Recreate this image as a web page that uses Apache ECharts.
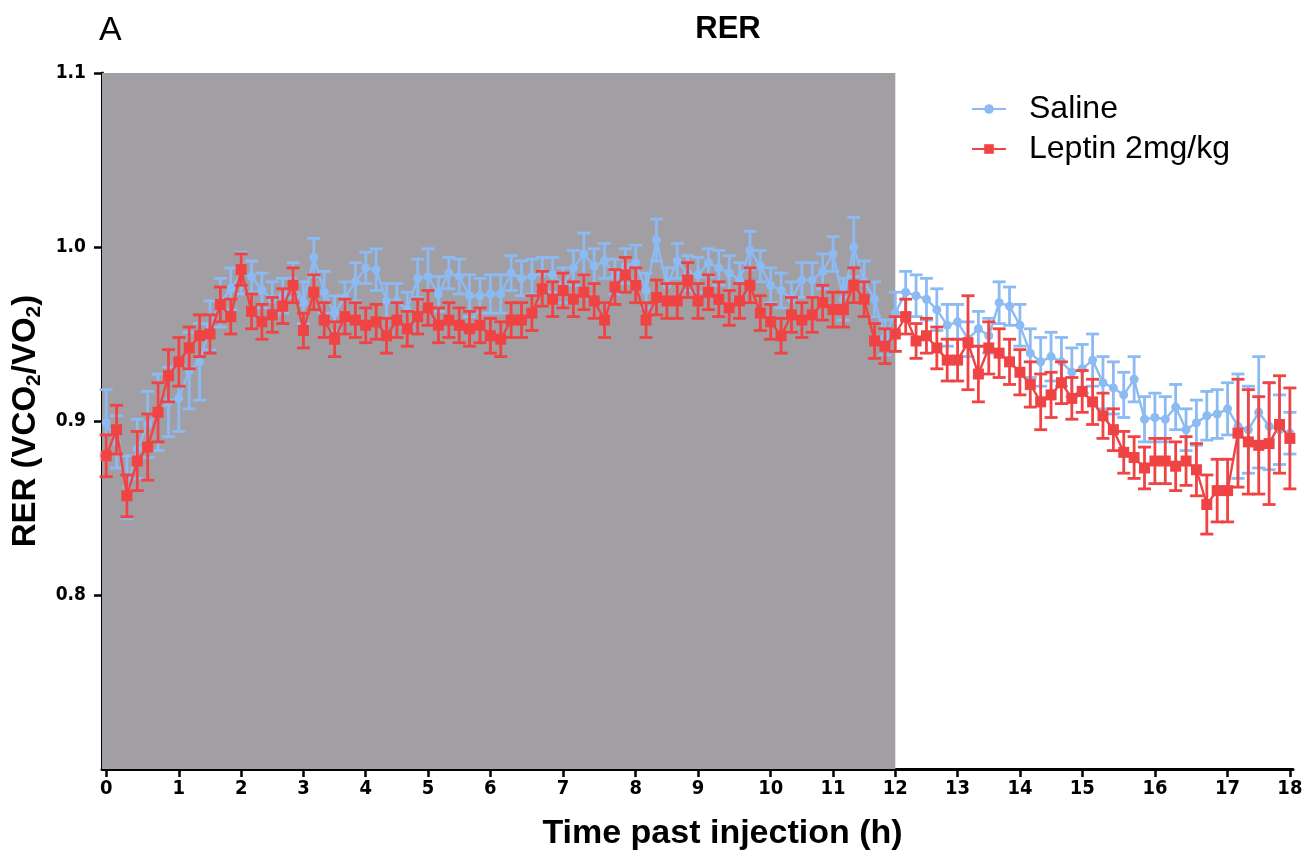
<!DOCTYPE html>
<html><head><meta charset="utf-8">
<script src="https://cdn.jsdelivr.net/npm/echarts@6/dist/echarts.min.js"></script>
<style>html,body{margin:0;padding:0;background:#fff}#c{width:1312px;height:857px}</style>
</head><body><div id="c"></div>
<script>
// tick positions (point index) and labels on the time axis (h)
const tickIndex = [0,7,13,19,25,31,37,44,51,57,64,70,76,82,88,94,101,108,114];
const tickLabels = ['0','1','2','3','4','5','6','7','8','9','10','11','12','13','14','15','16','17','18'];
const yTicks = [0.8,0.9,1.0,1.1];
const darkEndIndex = 76; // 12 h

const saline = [
0.899,0.888,0.862,0.884,0.898,0.905,0.911,0.913,0.929,0.934,
0.955,0.968,0.976,0.985,0.983,0.975,0.970,0.972,0.981,0.968,
0.994,0.974,0.962,0.971,0.980,0.988,0.987,0.969,0.969,0.964,
0.982,0.983,0.973,0.985,0.983,0.972,0.972,0.973,0.973,0.985,
0.982,0.983,0.985,0.984,0.978,0.988,0.996,0.989,0.992,0.983,
0.989,0.991,0.975,1.004,0.978,0.992,0.985,0.984,0.991,0.988,
0.985,0.981,0.998,0.989,0.978,0.975,0.970,0.981,0.981,0.986,
0.996,0.970,1.000,0.980,0.970,0.948,0.962,0.974,0.972,0.970,
0.964,0.955,0.957,0.947,0.953,0.949,0.968,0.966,0.955,0.939,
0.934,0.937,0.934,0.928,0.930,0.935,0.922,0.919,0.915,0.924,
0.901,0.902,0.901,0.908,0.895,0.899,0.903,0.904,0.907,0.897,
0.895,0.905,0.897,0.895,0.893];
const salineSem = [
0.019,0.015,0.018,0.017,0.019,0.022,0.020,0.019,0.022,0.022,
0.014,0.014,0.012,0.012,0.009,0.010,0.010,0.010,0.010,0.012,
0.011,0.012,0.010,0.009,0.011,0.009,0.012,0.010,0.010,0.010,
0.011,0.016,0.010,0.009,0.010,0.012,0.010,0.011,0.011,0.010,
0.010,0.010,0.009,0.010,0.010,0.010,0.012,0.010,0.010,0.010,
0.010,0.010,0.010,0.012,0.010,0.010,0.010,0.010,0.008,0.010,
0.010,0.010,0.011,0.009,0.010,0.010,0.010,0.010,0.010,0.010,
0.010,0.012,0.017,0.012,0.010,0.010,0.012,0.012,0.012,0.012,
0.012,0.012,0.010,0.010,0.010,0.010,0.012,0.011,0.012,0.014,
0.014,0.014,0.014,0.014,0.014,0.015,0.015,0.015,0.013,0.013,
0.013,0.014,0.013,0.013,0.012,0.013,0.014,0.014,0.015,0.030,
0.025,0.032,0.025,0.020,0.012];
const leptin = [
0.880,0.895,0.857,0.877,0.885,0.905,0.926,0.934,0.942,0.949,
0.950,0.967,0.960,0.987,0.963,0.957,0.961,0.966,0.978,0.952,
0.974,0.958,0.947,0.960,0.958,0.955,0.957,0.949,0.958,0.953,
0.960,0.965,0.955,0.958,0.955,0.953,0.955,0.949,0.947,0.958,
0.958,0.962,0.976,0.970,0.975,0.970,0.974,0.969,0.958,0.977,
0.984,0.978,0.958,0.971,0.969,0.969,0.981,0.969,0.974,0.970,
0.965,0.969,0.978,0.962,0.957,0.949,0.961,0.958,0.961,0.968,
0.964,0.964,0.978,0.970,0.946,0.943,0.950,0.960,0.946,0.949,
0.942,0.935,0.935,0.945,0.927,0.942,0.939,0.934,0.928,0.921,
0.911,0.915,0.922,0.913,0.917,0.911,0.903,0.895,0.882,0.879,
0.873,0.877,0.877,0.874,0.877,0.872,0.852,0.860,0.860,0.893,
0.888,0.886,0.887,0.898,0.890];
const leptinSem = [
0.012,0.014,0.012,0.017,0.019,0.017,0.015,0.014,0.012,0.012,
0.011,0.010,0.010,0.009,0.010,0.010,0.010,0.010,0.010,0.010,
0.010,0.010,0.010,0.010,0.010,0.010,0.010,0.010,0.010,0.010,
0.010,0.010,0.010,0.010,0.010,0.010,0.010,0.010,0.010,0.010,
0.010,0.010,0.010,0.010,0.010,0.010,0.010,0.010,0.010,0.010,
0.010,0.010,0.010,0.010,0.010,0.010,0.010,0.010,0.010,0.010,
0.010,0.010,0.010,0.010,0.010,0.010,0.010,0.010,0.010,0.010,
0.010,0.010,0.010,0.010,0.010,0.010,0.010,0.010,0.010,0.010,
0.012,0.012,0.012,0.027,0.016,0.015,0.014,0.013,0.013,0.013,
0.016,0.013,0.012,0.012,0.012,0.013,0.013,0.012,0.012,0.012,
0.012,0.013,0.013,0.014,0.014,0.015,0.017,0.018,0.018,0.031,
0.030,0.028,0.035,0.028,0.029];

const BLUE = '#8cbaf2', RED = '#f04343', GRAY = '#a19fa4';
const NARROW = "'Liberation Sans Narrow','DejaVu Sans Condensed','Liberation Sans',Arial,sans-serif";
const SANS = "'Liberation Sans',Arial,sans-serif";

function pts(arr){ return arr.map((v,i)=>[i,v]); }
function errPts(arr, sem){ return arr.map((v,i)=>[i,v,sem[i]]); }
function errRender(color){
  return function(params, api){
    const i = api.value(0), m = api.value(1), s = api.value(2);
    const t = api.coord([i, m + s]), b = api.coord([i, m - s]);
    const hw = 6.5;
    const st = {stroke: color, lineWidth: 2.8};
    return {type:'group', children:[
      {type:'line', shape:{x1:t[0],y1:t[1],x2:b[0],y2:b[1]}, style:st},
      {type:'line', shape:{x1:t[0]-hw,y1:t[1],x2:t[0]+hw,y2:t[1]}, style:st},
      {type:'line', shape:{x1:b[0]-hw,y1:b[1],x2:b[0]+hw,y2:b[1]}, style:st}
    ]};
  };
}

const chart = echarts.init(document.getElementById('c'), null, {renderer:'canvas'});
chart.setOption({
  animation:false,
  backgroundColor:'#fff',
  title:[
    {text:'RER', left:723, top:9, textAlign:'center', textStyle:{fontFamily:SANS, fontSize:31, fontWeight:'bold', color:'#000'}},
    {text:'A', left:94, top:9, textStyle:{fontFamily:SANS, fontSize:34, fontWeight:'normal', color:'#000'}}
  ],
  legend:{
    left:966, top:87, orient:'vertical', itemGap:6, itemWidth:34, itemHeight:12,
    data:['Saline','Leptin 2mg/kg'],
    textStyle:{fontFamily:SANS, fontSize:32, lineHeight:34, color:'#000', padding:[0,0,0,18]}
  },
  grid:{left:102, right:19, top:73, bottom:88, containLabel:false},
  xAxis:{
    type:'value', min:-0.4, max:114.3,
    name:'Time past injection (h)', nameLocation:'middle', nameGap:48,
    nameTextStyle:{fontFamily:SANS, fontSize:34, fontWeight:'bold', color:'#000', padding:[0,0,0,50]},
    axisLine:{show:true, onZero:false, lineStyle:{color:'#000', width:3}},
    axisTick:{show:true, length:8, lineStyle:{color:'#000', width:2.5}, customValues:tickIndex},
    axisLabel:{customValues:tickIndex, margin:10, fontFamily:NARROW, fontSize:20, fontWeight:'bold', color:'#000',
      formatter:(v)=>{const k = tickIndex.indexOf(Math.round(v)); return k>=0 ? tickLabels[k] : '';}},
    splitLine:{show:false}
  },
  yAxis:{
    type:'value', min:0.7, max:1.1, interval:0.1,
    name:'{n|RER (VCO}{s|2}{n|/VO}{s|2}{n|)}', nameLocation:'middle', nameGap:52,
    nameTextStyle:{rich:{
      n:{fontFamily:SANS, fontSize:33, fontWeight:'bold', color:'#000', lineHeight:38},
      s:{fontFamily:SANS, fontSize:21, fontWeight:'bold', color:'#000', lineHeight:38, verticalAlign:'bottom', padding:[15,0,0,0]}
    }},
    axisLine:{show:true, onZero:false, lineStyle:{color:'#000', width:3}},
    axisTick:{show:true, length:8, lineStyle:{color:'#000', width:2.5}, customValues:yTicks},
    axisLabel:{customValues:yTicks, margin:16, fontFamily:NARROW, fontSize:19, fontWeight:'bold', color:'#000',
      formatter:(v)=>v.toFixed(1)},
    splitLine:{show:false}
  },
  series:[
    {type:'custom', name:'salineErr', renderItem:errRender(BLUE), data:errPts(saline, salineSem),
     encode:{x:0,y:1}, z:2, silent:true,
     markArea:{silent:true, itemStyle:{color:GRAY, opacity:1}, data:[[{xAxis:-0.4},{xAxis:darkEndIndex}]]}},
    {type:'line', name:'Saline', data:pts(saline), z:3, symbol:'circle', symbolSize:9,
     lineStyle:{color:BLUE, width:2.4}, itemStyle:{color:BLUE}},
    {type:'custom', name:'leptinErr', renderItem:errRender(RED), data:errPts(leptin, leptinSem),
     encode:{x:0,y:1}, z:4, silent:true},
    {type:'line', name:'Leptin 2mg/kg', data:pts(leptin), z:5, symbol:'rect', symbolSize:11,
     lineStyle:{color:RED, width:2.4}, itemStyle:{color:RED}}
  ]
});
</script></body></html>
